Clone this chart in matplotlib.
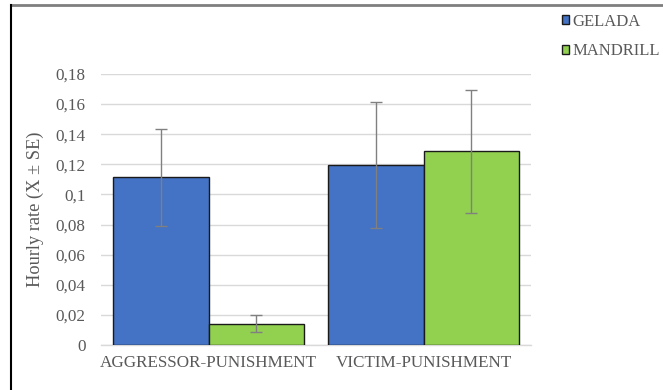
import matplotlib
matplotlib.use("Agg")
import matplotlib.pyplot as plt
from matplotlib.lines import Line2D
import numpy as np

categories = ["AGGRESSOR-PUNISHMENT", "VICTIM-PUNISHMENT"]
species = ["GELADA", "MANDRILL"]
gelada_mean = [0.1113, 0.1193]
gelada_se = [0.0320, 0.0418]
mandrill_mean = [0.0142, 0.1286]
mandrill_se = [0.0055, 0.0410]
yticks = [0, 0.02, 0.04, 0.06, 0.08, 0.1, 0.12, 0.14, 0.16, 0.18]
ytick_labels = ["0", "0,02", "0,04", "0,06", "0,08", "0,1", "0,12", "0,14", "0,16", "0,18"]

colors = ["#4472C4", "#92D050"]
text_color = "#595959"

plt.rcParams["font.family"] = ["Liberation Serif", "DejaVu Serif"]

W, H = 663, 390
fig = plt.figure(figsize=(W / 100, H / 100), dpi=100)
ax = fig.add_axes([101 / W, 1 - 345 / H, 430 / W, (345 - 74) / H])

x = np.arange(len(categories))
width = 0.445
err_kw = dict(ecolor="#808080", elinewidth=1.0, capsize=4, capthick=1.0)
ax.bar(x - width / 2, gelada_mean, width, yerr=gelada_se, color=colors[0],
       edgecolor="#1a1a1a", linewidth=1.0, label=species[0], error_kw=err_kw, zorder=3)
ax.bar(x + width / 2, mandrill_mean, width, yerr=mandrill_se, color=colors[1],
       edgecolor="#1a1a1a", linewidth=1.0, label=species[1], error_kw=err_kw, zorder=3)

ax.set_xlim(-0.5, 1.5)
ax.set_ylim(0, 0.18)
ax.set_yticks(yticks)
ax.set_yticklabels(ytick_labels)
ax.set_xticks(x)
ax.set_xticklabels(categories)
ax.tick_params(axis="both", length=0, colors=text_color, labelsize=12.3)
ax.tick_params(axis="y", pad=11)
ax.tick_params(axis="x", pad=7)
ax.grid(axis="y", color="#d9d9d9", linewidth=1.0, zorder=0)
ax.set_axisbelow(True)
for side in ["top", "right", "left"]:
    ax.spines[side].set_visible(False)
ax.spines["bottom"].set_color("#d9d9d9")
ax.spines["bottom"].set_linewidth(1.0)

ax.set_ylabel("Hourly rate (X \u00b1 SE)", color=text_color, fontsize=13.2, labelpad=8)

leg = fig.legend(loc="upper left", bbox_to_anchor=(555 / W, 1 - 7 / H),
                 frameon=False, fontsize=12.0, handlelength=0.45, handleheight=0.45,
                 handletextpad=0.2, labelspacing=0.8, borderaxespad=0)
for t in leg.get_texts():
    t.set_color(text_color)

# chart frame: grey top rule and black left rule
fig.add_artist(Line2D([11 / W, 1], [1 - 5.3 / H, 1 - 5.3 / H], transform=fig.transFigure,
                      color="#7f7f7f", linewidth=2.0))
fig.add_artist(Line2D([11 / W, 11 / W], [0, 1 - 5 / H], transform=fig.transFigure,
                      color="#000000", linewidth=1.5))

fig.savefig("out.png", dpi=100, facecolor="white")
